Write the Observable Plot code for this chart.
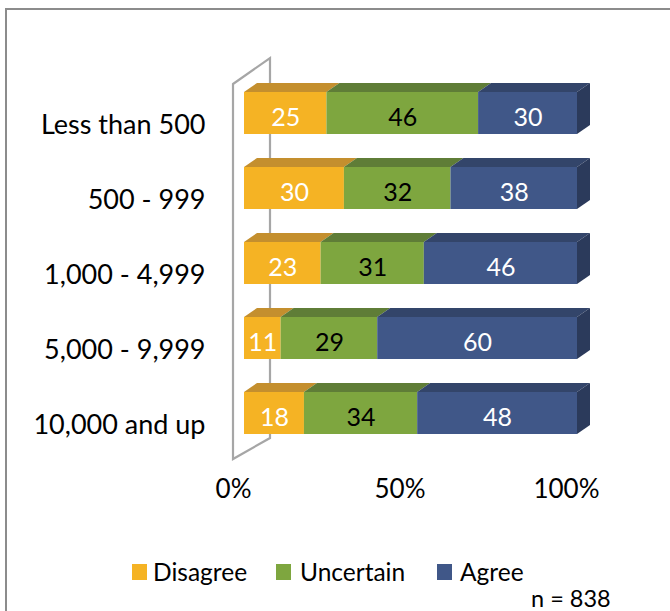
<!DOCTYPE html>
<html><head><meta charset="utf-8">
<script src="https://cdn.jsdelivr.net/npm/d3@7"></script>
<script src="https://cdn.jsdelivr.net/npm/@observablehq/plot@0.6"></script>
<style>
body{margin:0;background:#fff;font-family:Lato,"Open Sans",sans-serif;}
#wrap{position:relative;width:670px;height:611px;overflow:hidden;background:#fff;}
#chart{position:absolute;left:0;top:0;}
#frame{position:absolute;left:5px;top:8px;width:700px;height:700px;border:2px solid #8c8c8c;}
.lg{position:absolute;font-size:24px;color:#000;line-height:1;white-space:nowrap;}
.sw{position:absolute;width:15px;height:16px;}
</style></head><body>
<div id="wrap"><div id="chart"></div><div id="legend"></div><div id="note" class="lg"></div><div id="frame"></div></div>
<script>
const categories = ["Less than 500","500 - 999","1,000 - 4,999","5,000 - 9,999","10,000 and up"];
const responses = ["Disagree","Uncertain","Agree"];
const disagree = [25,30,23,11,18];
const uncertain = [46,32,31,29,34];
const agree = [30,38,46,60,48];
const xTicks = [0, 0.5, 1];
const nLabel = "n = 838";

const frontColor = {Disagree:"#F5B324", Uncertain:"#7EA63F", Agree:"#405788"};
const topColor = {Disagree:"#C48F2E", Uncertain:"#5F7D37", Agree:"#33456A"};
const sideColor = "#2B3A5B";

const series = [disagree, uncertain, agree];
const table = [];
categories.forEach((c, i) => {
  const vals = series.map(s => s[i]);
  const total = d3.sum(vals);
  let acc = 0;
  responses.forEach((r, j) => {
    const x1 = acc / total; acc += vals[j]; const x2 = acc / total;
    table.push({category: c, response: r, value: vals[j], x1, x2, last: j === responses.length - 1});
  });
});

const DX = 13, DY = -9;
function bw(y) { return y.bandwidth ? y.bandwidth() : 42; }

function wall(index, scales) {
  const {x, y} = scales;
  const x0 = x(0);
  const yTop = y(categories[0]) - 8;
  const yBot = y(categories[categories.length - 1]) + bw(y) + 25;
  const g = d3.create("svg:g");
  g.append("polygon")
    .attr("points", [[x0 - 11, yTop], [x0 + 26, yTop - 26], [x0 + 26, yBot - 21], [x0 - 11, yBot]].join(" "))
    .attr("fill", "#fff").attr("stroke", "#a6a6a6").attr("stroke-width", 2.2);
  return g.node();
}

function depth(index, scales) {
  const {x, y} = scales;
  const h = bw(y);
  const g = d3.create("svg:g");
  for (const d of table) {
    const xa = x(d.x1), xb = x(d.x2), yt = y(d.category), yb = yt + h;
    g.append("polygon")
      .attr("points", [[xa, yt], [xa + DX, yt + DY], [xb + DX, yt + DY], [xb, yt]].join(" "))
      .attr("fill", topColor[d.response]);
    if (d.last) {
      g.append("polygon")
        .attr("points", [[xb, yt], [xb + DX, yt + DY], [xb + DX, yb + DY], [xb, yb]].join(" "))
        .attr("fill", sideColor);
    }
  }
  return g.node();
}

const chart = Plot.plot({
  width: 670,
  height: 545,
  marginTop: 0, marginBottom: 0, marginLeft: 0, marginRight: 0,
  style: {fontFamily: "Lato, 'Open Sans', sans-serif", fontSize: "22px", background: "none", overflow: "visible"},
  x: {domain: [0, 1], range: [244, 577], axis: null},
  y: {domain: categories, range: [58.5, 466.5], padding: 0.44, axis: null},
  color: {domain: responses, range: responses.map(r => frontColor[r])},
  marks: [
    wall,
    depth,
    Plot.barX(table, {x1: "x1", x2: "x2", y: "category", fill: "response"}),
    Plot.text(table.filter(d => d.response !== "Uncertain"), {x: d => (d.x1 + d.x2) / 2, y: "category", text: "value", fill: "#fff", fontSize: 25, dy: 4}),
    Plot.text(table.filter(d => d.response === "Uncertain"), {x: d => (d.x1 + d.x2) / 2, y: "category", text: "value", fill: "#000", fontSize: 25, dy: 4}),
    Plot.text(categories, {x: () => 0, y: d => d, text: d => d, textAnchor: "end", dx: -39, dy: 12, fontSize: 27, fill: "#000"}),
    Plot.text(xTicks, {x: d => d, frameAnchor: "bottom", text: d => d3.format(".0%")(d), dx: -11, dy: -48, fontSize: 26, fill: "#000"})
  ]
});
document.getElementById("chart").appendChild(chart);

const legendPos = [{sw: 132, tx: 153}, {sw: 276, tx: 300}, {sw: 437, tx: 460}];
const legend = document.getElementById("legend");
responses.forEach((r, i) => {
  const s = document.createElement("div");
  s.className = "sw"; s.style.left = legendPos[i].sw + "px"; s.style.top = "564px"; s.style.background = frontColor[r];
  legend.appendChild(s);
  const t = document.createElement("div");
  t.className = "lg"; t.style.left = legendPos[i].tx + "px"; t.style.top = "560px"; t.style.fontSize = "24.5px"; t.textContent = r;
  legend.appendChild(t);
});
const note = document.getElementById("note");
note.textContent = nLabel; note.style.left = "531px"; note.style.top = "587px"; note.style.fontSize = "23.5px";
</script>
</body></html>
